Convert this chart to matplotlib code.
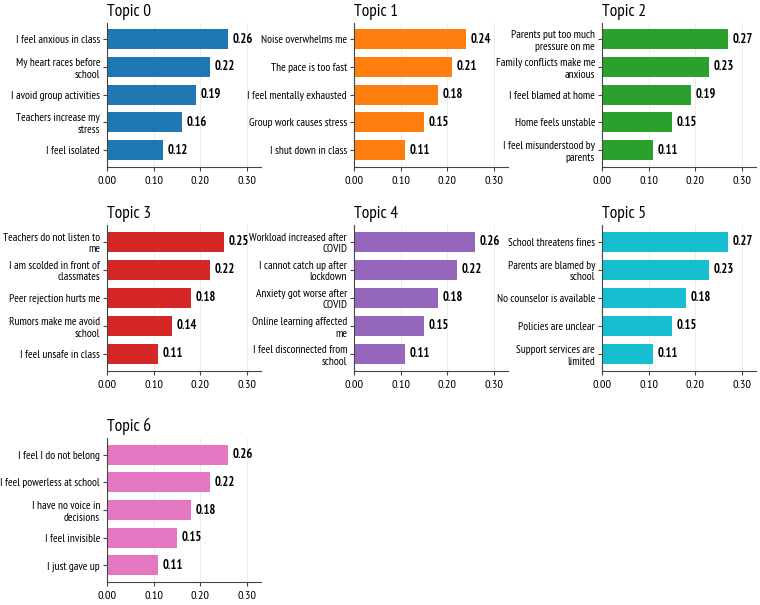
import textwrap
import matplotlib
matplotlib.use("Agg")
import matplotlib.pyplot as plt

# Topic data (top statements per topic and their weights)
topics = ["Topic 0", "Topic 1", "Topic 2", "Topic 3", "Topic 4", "Topic 5", "Topic 6"]

labels_0 = ["I feel anxious in class", "My heart races before school", "I avoid group activities",
            "Teachers increase my stress", "I feel isolated"]
values_0 = [0.26, 0.22, 0.19, 0.16, 0.12]

labels_1 = ["Noise overwhelms me", "The pace is too fast", "I feel mentally exhausted",
            "Group work causes stress", "I shut down in class"]
values_1 = [0.24, 0.21, 0.18, 0.15, 0.11]

labels_2 = ["Parents put too much pressure on me", "Family conflicts make me anxious",
            "I feel blamed at home", "Home feels unstable", "I feel misunderstood by parents"]
values_2 = [0.27, 0.23, 0.19, 0.15, 0.11]

labels_3 = ["Teachers do not listen to me", "I am scolded in front of classmates",
            "Peer rejection hurts me", "Rumors make me avoid school", "I feel unsafe in class"]
values_3 = [0.25, 0.22, 0.18, 0.14, 0.11]

labels_4 = ["Workload increased after COVID", "I cannot catch up after lockdown",
            "Anxiety got worse after COVID", "Online learning affected me",
            "I feel disconnected from school"]
values_4 = [0.26, 0.22, 0.18, 0.15, 0.11]

labels_5 = ["School threatens fines", "Parents are blamed by school", "No counselor is available",
            "Policies are unclear", "Support services are limited"]
values_5 = [0.27, 0.23, 0.18, 0.15, 0.11]

labels_6 = ["I feel I do not belong", "I feel powerless at school", "I have no voice in decisions",
            "I feel invisible", "I just gave up"]
values_6 = [0.26, 0.22, 0.18, 0.15, 0.11]

all_labels = [labels_0, labels_1, labels_2, labels_3, labels_4, labels_5, labels_6]
all_values = [values_0, values_1, values_2, values_3, values_4, values_5, values_6]
colors = ["#1f77b4", "#ff7f0e", "#2ca02c", "#d62728", "#9467bd", "#17becf", "#e377c2"]

xticks = [0.0, 0.1, 0.2, 0.3]

plt.rcParams["font.family"] = ["PT Sans Narrow", "DejaVu Sans"]

W, H = 760, 605
fig = plt.figure(figsize=(W / 100, H / 100), dpi=100)

# axes boxes in pixels: left, top, bottom
col_left = [107, 354, 602]
row_box = [(22.7, 166.7), (225, 370.7), (438.3, 581.7)]
ax_w = 154

for i, (title, labs, vals) in enumerate(zip(topics, all_labels, all_values)):
    r, c = divmod(i, 3)
    top, bottom = row_box[r]
    ax = fig.add_axes([col_left[c] / W, 1 - bottom / H, ax_w / W, (bottom - top) / H])
    wrapped = [textwrap.fill(s, 26) for s in labs]
    ax.barh(wrapped, vals, height=0.72, color=colors[i], zorder=2)
    ax.invert_yaxis()
    for y, v in enumerate(vals):
        ax.text(v + 0.01, y, f"{v:.2f}", va="center", ha="left", fontsize=9, fontweight="bold")
    ax.set_xlim(0, 0.33)
    ax.set_xticks(xticks)
    ax.set_xticklabels([f"{t:.2f}" for t in xticks])
    ax.tick_params(axis="x", labelsize=8.8, length=3, color="#444444")
    ax.tick_params(axis="y", labelsize=8.2, length=3, pad=2, color="#444444")
    ax.grid(axis="x", color="#dddddd", linewidth=0.6, alpha=0.6, zorder=0)
    ax.spines["top"].set_visible(False)
    ax.spines["right"].set_visible(False)
    ax.spines["left"].set_color("#444444")
    ax.spines["bottom"].set_color("#444444")
    ax.set_title(title, loc="left", fontsize=12.5, pad=5)

fig.savefig("out.png", dpi=100)
